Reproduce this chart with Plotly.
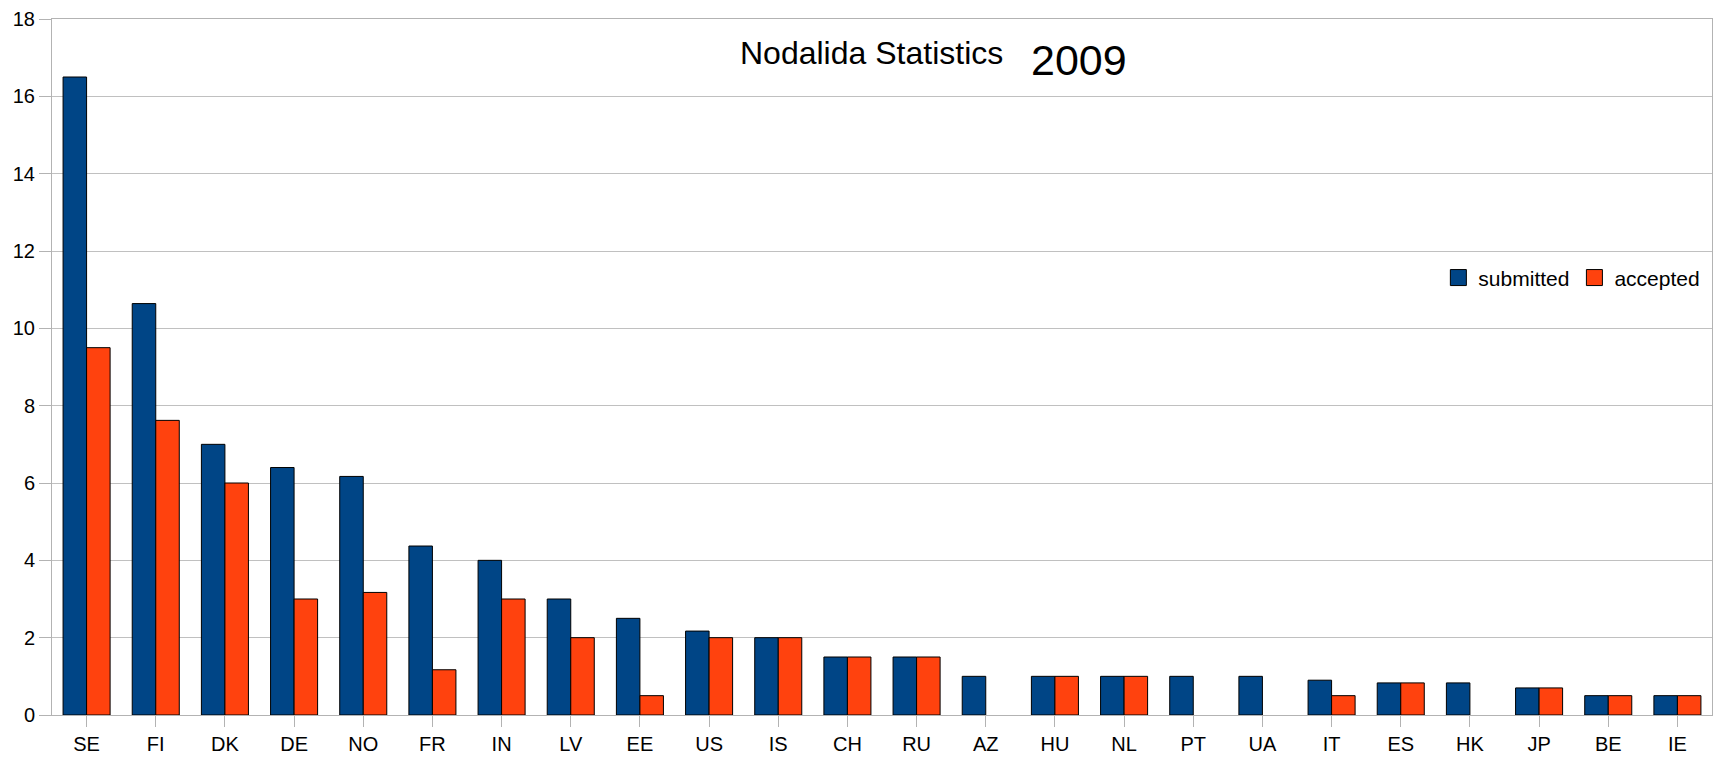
import plotly.graph_objects as go

countries = ["SE", "FI", "DK", "DE", "NO", "FR", "IN", "LV", "EE", "US", "IS", "CH",
             "RU", "AZ", "HU", "NL", "PT", "UA", "IT", "ES", "HK", "JP", "BE", "IE"]
submitted = [16.5, 10.64, 7.0, 6.4, 6.17, 4.37, 4.0, 3.0, 2.5, 2.17, 2.0, 1.5,
             1.5, 1.0, 1.0, 1.0, 1.0, 1.0, 0.9, 0.83, 0.83, 0.7, 0.5, 0.5]
accepted = [9.5, 7.62, 6.0, 3.0, 3.17, 1.17, 3.0, 2.0, 0.5, 2.0, 2.0, 1.5,
            1.5, 0.0, 1.0, 1.0, 0.0, 0.0, 0.5, 0.83, 0.0, 0.7, 0.5, 0.5]
series_names = ["submitted", "accepted"]
colors = ["#004586", "#ff420e"]
title_text = "Nodalida Statistics"
year_text = "2009"

FONT = "Liberation Sans, Arial, sans-serif"

fig = go.Figure()
for name, vals, col in zip(series_names, [submitted, accepted], colors):
    fig.add_trace(go.Bar(
        x=countries, y=vals, name=name, showlegend=False,
        marker=dict(color=col,
                    line=dict(color="#000000", width=[1 if v > 0 else 0 for v in vals])),
    ))
# legend proxies (larger square swatches)
for name, col in zip(series_names, colors):
    fig.add_trace(go.Scatter(
        x=[None], y=[None], mode="markers", name=name,
        marker=dict(symbol="square", size=16, color=col,
                    line=dict(color="#000000", width=1)),
    ))

fig.update_layout(
    width=1721, height=764,
    margin=dict(l=52, r=8, t=16, b=49),
    paper_bgcolor="white", plot_bgcolor="white",
    barmode="group", bargap=0.32, bargroupgap=0,
    font=dict(family=FONT, color="#000000", size=20),
    legend=dict(orientation="h", x=0.996, xanchor="right", y=0.628, yanchor="middle",
                font=dict(size=21, family=FONT), bgcolor="rgba(0,0,0,0)",
                itemwidth=30),
    annotations=[
        dict(text=title_text, xref="paper", yref="paper", x=0.4135, y=0.951,
             xanchor="left", yanchor="middle", showarrow=False,
             font=dict(size=32, family=FONT, color="#000000")),
        dict(text=year_text, xref="paper", yref="paper", x=0.5885, y=0.941,
             xanchor="left", yanchor="middle", showarrow=False,
             font=dict(size=43, family=FONT, color="#000000")),
    ],
)
fig.update_xaxes(
    type="category", showgrid=False, showline=True, linecolor="#b3b3b3", linewidth=1,
    mirror=True, ticks="outside", ticklen=11, tickcolor="#b3b3b3",
    tickfont=dict(size=20, family=FONT), zeroline=False,
)
fig.update_yaxes(
    range=[0, 18], dtick=2, showgrid=True, gridcolor="#c0c0c0", gridwidth=1,
    showline=True, linecolor="#b3b3b3", linewidth=1, mirror=True,
    ticks="outside", ticklen=12, tickcolor="#b3b3b3",
    tickfont=dict(size=20, family=FONT), zeroline=False,
)

fig.write_html("out.html", config={"displayModeBar": False},
               post_script="document.body.style.margin='0';document.body.style.overflow='hidden';")
